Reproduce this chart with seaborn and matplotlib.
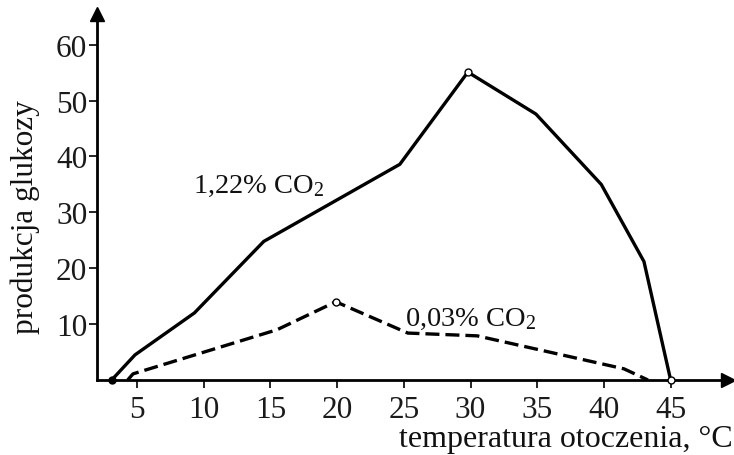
import matplotlib
matplotlib.use("Agg")
import matplotlib.pyplot as plt
import seaborn as sns
import pandas as pd

# Data
temp_high = [3.1, 4.85, 9.3, 14.5, 24.7, 29.8, 34.9, 39.8, 43.0, 45.0]
gluc_high = [0.0, 4.5, 12.0, 24.8, 38.6, 55.1, 47.6, 35.0, 21.2, 0.0]
temp_low = [4.3, 4.7, 15.5, 19.9, 25.3, 30.5, 41.5, 43.3]
gluc_low = [0.0, 1.1, 9.0, 14.0, 8.4, 7.9, 2.0, 0.0]
x_ticks = [5, 10, 15, 20, 25, 30, 35, 40, 45]
y_ticks = [10, 20, 30, 40, 50, 60]
label_high = "1,22% CO$_2$"
label_low = "0,03% CO$_2$"
x_label = "temperatura otoczenia, °C"
y_label = "produkcja glukozy"

sns.set_style("ticks")
plt.rcParams['font.family'] = ['Liberation Serif', 'DejaVu Serif']
plt.rcParams['mathtext.fontset'] = 'custom'
plt.rcParams['mathtext.rm'] = 'Liberation Serif'
plt.rcParams['mathtext.it'] = 'Liberation Serif:italic'

df_high = pd.DataFrame({"t": temp_high, "g": gluc_high})
df_low = pd.DataFrame({"t": temp_low, "g": gluc_low})

fig = plt.figure(figsize=(7.34, 4.56), dpi=100)
ax = fig.add_axes([97/734, (456-381)/456, (728-97)/734, (381-15)/456])

sns.lineplot(data=df_high, x="t", y="g", ax=ax, color="black", lw=2.4,
             estimator=None, sort=False)
sns.lineplot(data=df_low, x="t", y="g", ax=ax, color="black", lw=2.4,
             estimator=None, sort=False, dashes=False)
ax.lines[-1].set_dashes([4.2, 1.8])

# markers
ax.plot([temp_high[0]], [gluc_high[0]], 'o', color='black', ms=5, clip_on=False, zorder=5)
ax.plot([temp_high[5], temp_high[-1]], [gluc_high[5], gluc_high[-1]], 'o', mfc='white',
        mec='black', ms=5, mew=1, clip_on=False, zorder=5)
ax.plot([temp_low[3]], [gluc_low[3]], 'o', mfc='white', mec='black', ms=5, mew=1,
        clip_on=False, zorder=5)

ax.set_xlim(2.0, 49.3)
ax.set_ylim(0, 65.5)
ax.set_xticks(x_ticks)
ax.set_yticks(y_ticks)
ax.tick_params(axis='both', labelsize=22.5, width=1.2, length=6, color='black', labelcolor='#1a1a1a')
ax.tick_params(axis='x', pad=5)
ax.tick_params(axis='y', pad=1)

for s in ['top', 'right']:
    ax.spines[s].set_visible(False)
for s in ['left', 'bottom']:
    ax.spines[s].set_linewidth(2)
    ax.spines[s].set_color('black')

# arrow heads
ax.plot(1, 0, '>', color='black', ms=10, transform=ax.transAxes, clip_on=False)
ax.plot(0, 1, '^', color='black', ms=10, transform=ax.transAxes, clip_on=False)

ax.set_xlabel("")
ax.set_ylabel("")
fig.text(733/734, (456-440)/456, x_label, ha='right', va='center', fontsize=23, color='#111111')
fig.text(25/734, (456-217)/456, y_label, ha='center', va='center', rotation=90, fontsize=22.5, color='#111111')

ax.text(9.2, 34.8, label_high, fontsize=20.5, ha='left', va='center', color='#111111')
ax.text(25.1, 11.1, label_low, fontsize=20.5, ha='left', va='center', color='#111111')

fig.savefig("out.png", dpi=100)
